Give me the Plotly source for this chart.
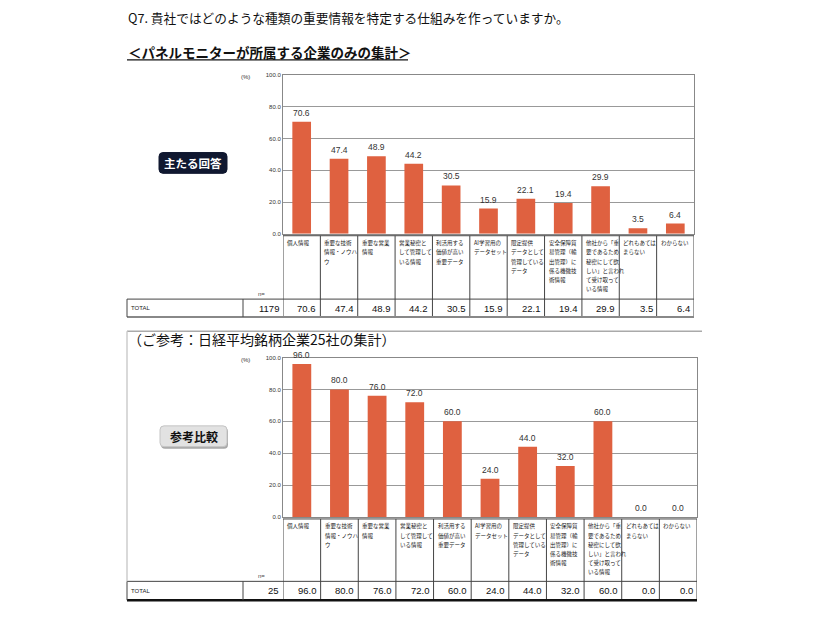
import plotly.graph_objects as go

# ---------------- data ----------------
categories = [
    "個人情報", "重要な技術情報・ノウハウ", "重要な営業情報", "営業秘密として管理している情報",
    "利活用する価値が高い重要データ", "AI学習用のデータセット", "限定提供データとして管理しているデータ",
    "安全保障貿易管理（輸出管理）に係る機微技術情報",
    "他社から「重要であるため秘密にして欲しい」と言われて受け取っている情報",
    "どれもあてはまらない", "わからない",
]
header_labels = [
    "個人情報", "重要な技術<br>情報・ノウハ<br>ウ", "重要な営業<br>情報", "営業秘密と<br>して管理して<br>いる情報",
    "利活用する<br>価値が高い<br>重要データ", "AI学習用の<br>データセット",
    "限定提供<br>データとして<br>管理している<br>データ",
    "安全保障貿<br>易管理（輸<br>出管理）に<br>係る機微技<br>術情報",
    "他社から「重<br>要であるため<br>秘密にして欲<br>しい」と言われ<br>て受け取って<br>いる情報",
    "どれもあては<br>まらない", "わからない",
]
panel_values = [70.6, 47.4, 48.9, 44.2, 30.5, 15.9, 22.1, 19.4, 29.9, 3.5, 6.4]
nikkei_values = [96.0, 80.0, 76.0, 72.0, 60.0, 24.0, 44.0, 32.0, 60.0, 0.0, 0.0]
panel_n = 1179
nikkei_n = 25
row_label = "TOTAL"
y_ticks = [0, 20, 40, 60, 80, 100]

title_text = "Q7. 貴社ではどのような種類の重要情報を特定する仕組みを作っていますか。"
sub1_text = "＜パネルモニターが所属する企業のみの集計＞"
sub2_text = "（ご参考：日経平均銘柄企業25社の集計）"
badge1_text = "主たる回答"
badge2_text = "参考比較"

# ---------------- layout helpers ----------------
W, H = 826, 620
JP = "Noto Sans CJK JP"
NUM = "Liberation Sans"
BAR = "#DF6140"


def X(px):
    return px / W


def Y(py):
    return 1 - py / H


fig = go.Figure()
annotations = []
shapes = []

panels = [
    dict(vals=panel_values, n=panel_n, xa="x", ya="y", xdom=(283, 694), ytop=73, ybot=233,
         htop=235, rtop=299, rbot=317, bot_color="#888888", bot_w=2),
    dict(vals=nikkei_values, n=nikkei_n, xa="x2", ya="y2", xdom=(283, 697), ytop=358, ybot=519,
         htop=521, rtop=584, rbot=603, bot_color="#111111", bot_w=2.5),
]

for k, p in enumerate(panels):
    fig.add_trace(go.Bar(
        x=categories, y=p["vals"], xaxis=p["xa"], yaxis=p["ya"],
        marker=dict(color=BAR, line=dict(width=0)), width=0.5,
        hoverinfo="skip", showlegend=False,
    ))
    sfx = "" if k == 0 else "2"
    fig.update_layout(**{
        "xaxis" + sfx: dict(domain=[X(p["xdom"][0]), X(p["xdom"][1])], anchor="y" + sfx,
                            type="category", range=[-0.5, 10.5], showticklabels=False,
                            showline=True, linecolor="#888888", linewidth=1, mirror=True,
                            showgrid=False, ticks="", fixedrange=True),
        "yaxis" + sfx: dict(domain=[Y(p["ybot"]), Y(p["ytop"])], anchor="x" + sfx,
                            range=[0, 100], tickvals=y_ticks, tickformat=".1f",
                            tickfont=dict(size=6, color="#333333", family=NUM),
                            showgrid=True, gridcolor="#999999", gridwidth=1,
                            showline=True, linecolor="#888888", linewidth=1, mirror=True,
                            zeroline=False, ticks="", fixedrange=True),
    })
    xa = p["xa"]
    ya = p["ya"]
    # bar value labels
    for i, v in enumerate(p["vals"]):
        annotations.append(dict(text=f"{v:.1f}", xref=xa, yref=ya, x=i, y=v, yshift=2,
                                xanchor="center", yanchor="bottom", showarrow=False,
                                font=dict(size=8.5, color="#333333", family=NUM)))
    # (%)
    annotations.append(dict(text="(%)", xref="paper", yref="paper", x=X(245), y=Y(p["ytop"] + 2),
                            showarrow=False, font=dict(size=6, color="#333333", family=NUM),
                            xanchor="center", yanchor="middle"))
    # table lines
    line_c = "#444444"
    shapes.append(dict(type="line", xref=xa, yref="paper", x0=-0.5, x1=10.5,
                       y0=Y(p["htop"]), y1=Y(p["htop"]), line=dict(color=line_c, width=1)))
    for i in range(len(categories) + 1):
        shapes.append(dict(type="line", xref=xa, yref="paper", x0=i - 0.5, x1=i - 0.5,
                           y0=Y(p["htop"]), y1=Y(p["rbot"]), line=dict(color=line_c, width=1)))
    shapes.append(dict(type="line", xref="paper", yref="paper", x0=X(127), x1=X(p["xdom"][1]),
                       y0=Y(p["rtop"]), y1=Y(p["rtop"]), line=dict(color=line_c, width=1)))
    shapes.append(dict(type="line", xref="paper", yref="paper", x0=X(127), x1=X(p["xdom"][1]),
                       y0=Y(p["rbot"]), y1=Y(p["rbot"]),
                       line=dict(color=p["bot_color"], width=p["bot_w"])))
    for vx in (127, 243):
        shapes.append(dict(type="line", xref="paper", yref="paper", x0=X(vx), x1=X(vx),
                           y0=Y(p["rtop"]), y1=Y(p["rbot"]), line=dict(color=line_c, width=1)))
    # header texts
    for i, lab in enumerate(header_labels):
        for j, line in enumerate(lab.split("<br>")):
            annotations.append(dict(text=line, xref=xa, yref="paper", x=i - 0.5,
                                    y=Y(p["htop"] + 7.5 + j * 9.3), xshift=2,
                                    xanchor="left", yanchor="middle", showarrow=False,
                                    font=dict(size=5.5, color="#222222", family=JP)))
    rmid = (p["rtop"] + p["rbot"]) / 2
    for i, v in enumerate(p["vals"]):
        annotations.append(dict(text=f"{v:.1f}", xref=xa, yref="paper", x=i + 0.5, y=Y(rmid),
                                xshift=-2, xanchor="right", yanchor="middle", showarrow=False,
                                font=dict(size=9.5, color="#111111", family=NUM)))
    annotations.append(dict(text=str(p["n"]), xref="paper", yref="paper", x=X(281), y=Y(rmid),
                            xanchor="right", yanchor="middle", showarrow=False,
                            font=dict(size=9.5, color="#111111", family=NUM)))
    annotations.append(dict(text=row_label, xref="paper", yref="paper", x=X(129), y=Y(rmid),
                            xanchor="left", yanchor="middle", showarrow=False,
                            font=dict(size=6, color="#222222", family=NUM)))
    annotations.append(dict(text="n=", xref="paper", yref="paper", x=X(261), y=Y(p["rtop"] - 5),
                            xanchor="center", yanchor="middle", showarrow=False,
                            font=dict(size=6, color="#444444", family=NUM)))


def rrect(x0, y0, x1, y1, r):
    rx, ry = r / W, r / H
    a, b, c, d = X(x0), X(x1), Y(y0), Y(y1)  # c top, d bottom
    return (f"M{a + rx},{c} L{b - rx},{c} Q{b},{c} {b},{c - ry} L{b},{d + ry} Q{b},{d} {b - rx},{d} "
            f"L{a + rx},{d} Q{a},{d} {a},{d + ry} L{a},{c - ry} Q{a},{c} {a + rx},{c} Z")


# badges
shapes.append(dict(type="path", xref="paper", yref="paper", path=rrect(159, 151, 227, 172, 4),
                   fillcolor="#101830", line=dict(color="#101830", width=1)))
annotations.append(dict(text=f"<b>{badge1_text}</b>", xref="paper", yref="paper", x=X(193), y=Y(161.5),
                        showarrow=False, xanchor="center", yanchor="middle",
                        font=dict(size=11.5, color="white", family=JP)))
shapes.append(dict(type="path", xref="paper", yref="paper", path=rrect(161, 429, 228, 450, 4),
                   fillcolor="#a8a8a8", line=dict(width=0)))
shapes.append(dict(type="path", xref="paper", yref="paper", path=rrect(160, 427, 227, 448, 4),
                   fillcolor="#e2e2e2", line=dict(color="#c4c4c4", width=1)))
annotations.append(dict(text=f"<b>{badge2_text}</b>", xref="paper", yref="paper", x=X(193.5), y=Y(437.5),
                        showarrow=False, xanchor="center", yanchor="middle",
                        font=dict(size=12, color="#111111", family=JP)))

# titles
annotations.append(dict(text=title_text, xref="paper", yref="paper", x=X(126), y=Y(15),
                        showarrow=False, xanchor="left", yanchor="middle",
                        font=dict(size=12.7, color="#111111", family=JP)))
annotations.append(dict(text=f"<b>{sub1_text}</b>", xref="paper", yref="paper", x=X(126), y=Y(49),
                        showarrow=False, xanchor="left", yanchor="middle",
                        font=dict(size=13.5, color="#111111", family=JP)))
shapes.append(dict(type="line", xref="paper", yref="paper", x0=X(127), x1=X(408), y0=Y(57.5), y1=Y(57.5),
                   line=dict(color="#111111", width=1.2)))
annotations.append(dict(text=sub2_text, xref="paper", yref="paper", x=X(126), y=Y(339.5),
                        showarrow=False, xanchor="left", yanchor="middle",
                        font=dict(size=14, color="#111111", family=JP)))
# bottom section frame
shapes.append(dict(type="line", xref="paper", yref="paper", x0=X(127), x1=X(702), y0=Y(331.5), y1=Y(331.5),
                   line=dict(color="#aaaaaa", width=1.5)))
shapes.append(dict(type="line", xref="paper", yref="paper", x0=X(127), x1=X(127), y0=Y(331.5), y1=Y(584),
                   line=dict(color="#cccccc", width=1.5)))

fig.update_layout(
    width=W, height=H, autosize=False,
    margin=dict(l=0, r=0, t=0, b=0),
    paper_bgcolor="white", plot_bgcolor="white",
    bargap=0.5, showlegend=False,
    annotations=annotations, shapes=shapes,
    font=dict(family=JP),
)

fig.write_html("out.html")
